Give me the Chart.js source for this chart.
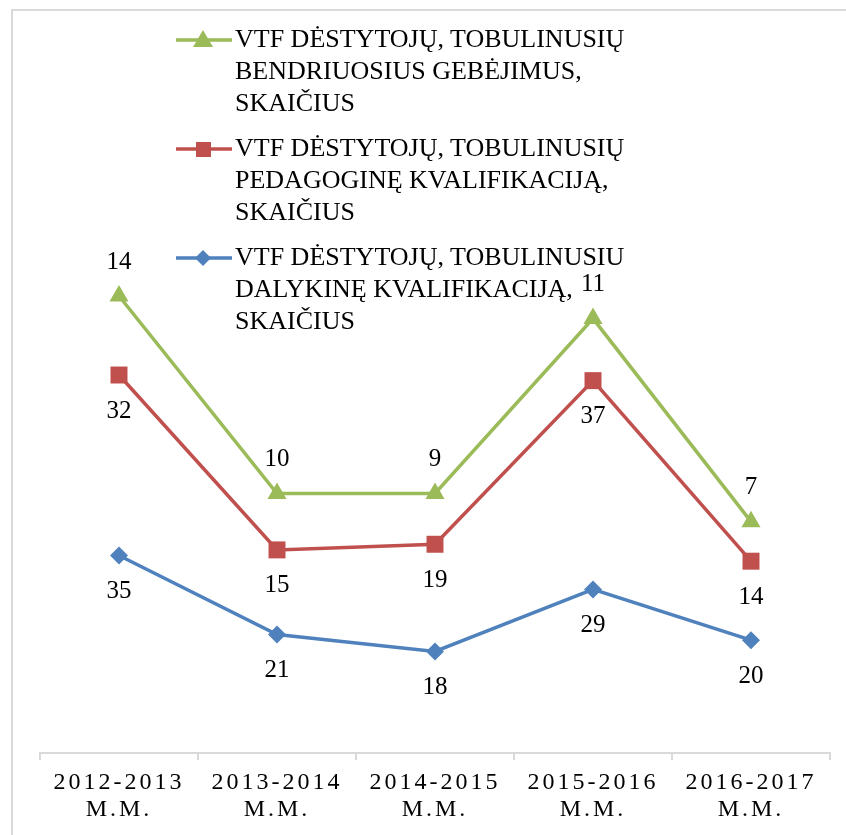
<!DOCTYPE html>
<html>
<head>
<meta charset="utf-8">
<script src="https://cdn.jsdelivr.net/npm/chart.js@4"></script>
<style>
  html, body { margin: 0; padding: 0; background: #fff; }
  #wrap { position: relative; width: 846px; height: 835px; overflow: hidden; }
  #frame { position: absolute; left: 11px; top: 9px; width: 900px; height: 900px;
           border-left: 2px solid #d9d9d9; border-top: 2px solid #d9d9d9; }
  canvas { position: absolute; left: 0; top: 0; }
  #legend { position: absolute; left: 176px; top: 23px; font-family: "Liberation Serif", "Times New Roman", serif;
            font-size: 26px; line-height: 32px; color: #000; white-space: nowrap; }
  .item { position: relative; padding-left: 59px; margin-bottom: 13px; }
  .item svg { position: absolute; left: 0; top: 2px; }
</style>
</head>
<body>
<div id="wrap">
  <div id="frame"></div>
  <canvas id="chart" width="846" height="835"></canvas>
  <div id="legend"></div>
</div>
<script>
// categories and values (stacked line, labels show each series' own value)
const categories = [["2012-2013", "M.M."], ["2013-2014", "M.M."], ["2014-2015", "M.M."], ["2015-2016", "M.M."], ["2016-2017", "M.M."]];
const dalykine = [35, 21, 18, 29, 20];
const pedagogine = [32, 15, 19, 37, 14];
const bendrieji = [14, 10, 9, 11, 7];

const names = [
  "VTF DĖSTYTOJŲ, TOBULINUSIU<br>DALYKINĘ KVALIFIKACIJĄ,<br>SKAIČIUS",
  "VTF DĖSTYTOJŲ, TOBULINUSIŲ<br>PEDAGOGINĘ KVALIFIKACIJĄ,<br>SKAIČIUS",
  "VTF DĖSTYTOJŲ, TOBULINUSIŲ<br>BENDRIUOSIUS GEBĖJIMUS,<br>SKAIČIUS"
];
const colors = ["#4F81BD", "#C0504D", "#9BBB59"];
const shapes = ["rectRot", "rect", "triangle"];
const radii = [9, 12, 11];

// value labels: green above, others below
const valueLabels = {
  id: "valueLabels",
  beforeDraw(chart) { chart.ctx.letterSpacing = "3px"; },
  afterDatasetsDraw(chart) {
    const ctx = chart.ctx;
    ctx.save();
    ctx.letterSpacing = "0px";
    ctx.font = "25px 'Liberation Serif', serif";
    ctx.fillStyle = "#000";
    ctx.textAlign = "center";
    ctx.textBaseline = "middle";
    chart.data.datasets.forEach((ds, i) => {
      chart.getDatasetMeta(i).data.forEach((pt, j) => {
        const dy = i === 2 ? -34 : 36;
        ctx.fillText(String(ds.raw[j]), pt.x, pt.y + dy);
      });
    });
    ctx.restore();
  }
};

const sets = [dalykine, pedagogine, bendrieji].map((vals, i) => ({
  label: names[i],
  data: vals,
  raw: vals,
  borderColor: colors[i],
  backgroundColor: colors[i],
  borderWidth: 3.5,
  pointStyle: shapes[i],
  pointRadius: radii[i],
  pointBorderWidth: 0,
  tension: 0,
  fill: false
}));

new Chart(document.getElementById("chart"), {
  type: "line",
  data: { labels: categories, datasets: sets },
  options: {
    responsive: false,
    animation: false,
    layout: { padding: { left: 40, right: 16, top: 76, bottom: 0 } },
    plugins: { legend: { display: false }, tooltip: { enabled: false } },
    scales: {
      y: { display: false, stacked: true, min: 0, max: 120 },
      x: {
        offset: true,
        grid: { offset: true, drawOnChartArea: false, color: "#d9d9d9", lineWidth: 2, tickLength: 7 },
        border: { color: "#d9d9d9", width: 2 },
        ticks: { color: "#000", font: { family: "'Liberation Serif', serif", size: 24, lineHeight: 1.13 }, padding: 9, maxRotation: 0 },
        afterFit(scale) { scale.height = 82; }
      }
    }
  },
  plugins: [valueLabels]
});

// legend, top to bottom in reverse dataset order
const svgs = [
  '<polygon points="27,7 35,15 27,23 19,15" fill="#4F81BD"/>',
  '<rect x="20" y="8" width="15" height="15" fill="#C0504D"/>',
  '<polygon points="27,5 37,22 17,22" fill="#9BBB59"/>'
];
const legend = document.getElementById("legend");
[2, 1, 0].forEach(i => {
  const div = document.createElement("div");
  div.className = "item";
  div.innerHTML = '<svg width="56" height="30"><line x1="0" y1="15" x2="56" y2="15" stroke="' + colors[i] +
    '" stroke-width="3.5"/>' + svgs[i] + '</svg>' + names[i];
  legend.appendChild(div);
});
</script>
</body>
</html>
